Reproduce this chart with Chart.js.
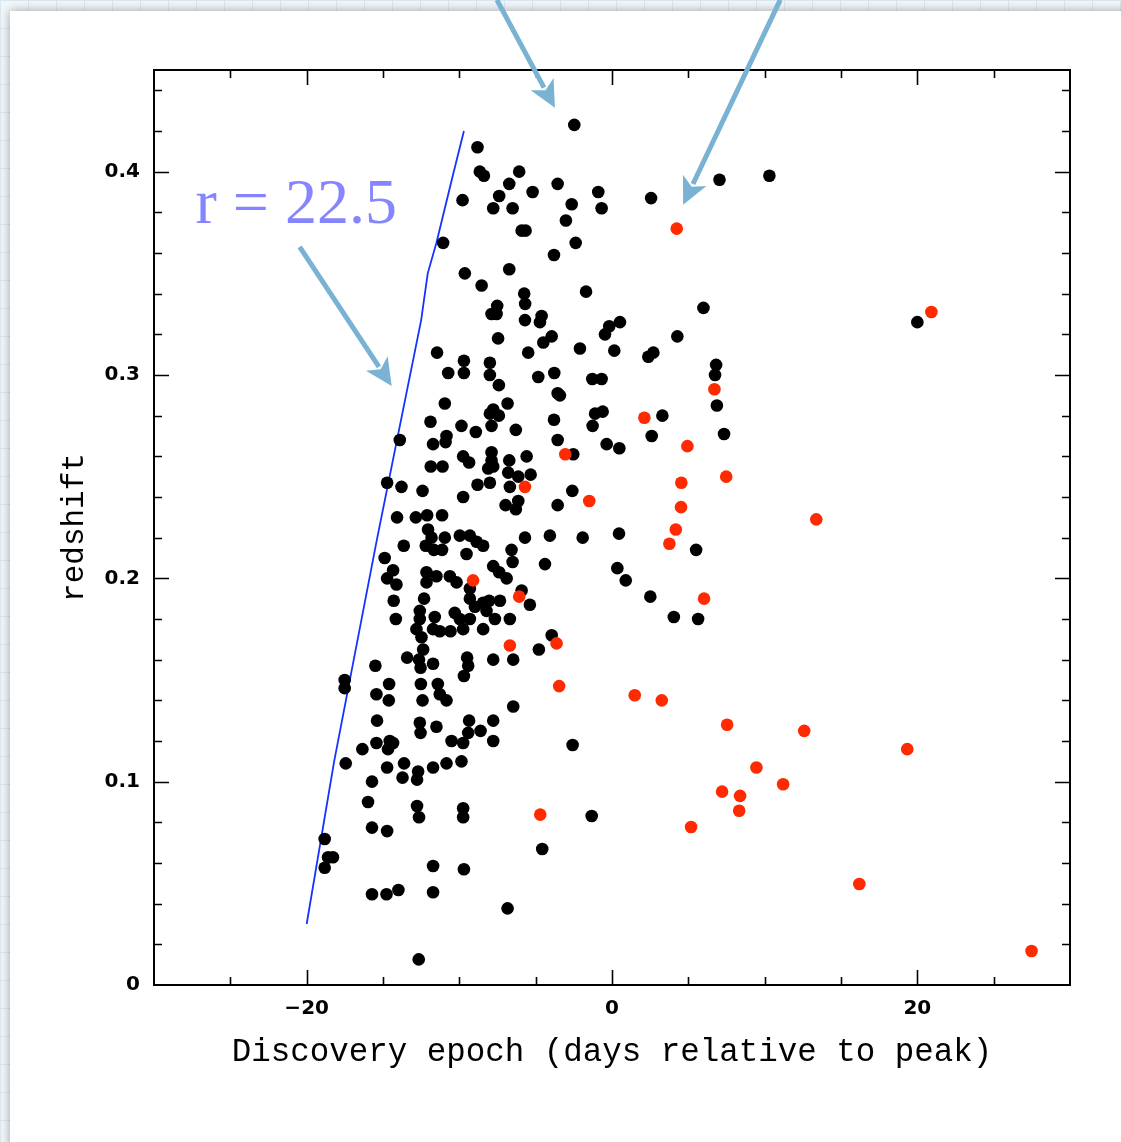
<!DOCTYPE html>
<html>
<head>
<meta charset="utf-8">
<script src="https://cdn.jsdelivr.net/npm/chart.js@4.4.0/dist/chart.umd.min.js"></script>
<style>
  html, body { margin: 0; padding: 0; }
  body {
    width: 1121px; height: 1142px; overflow: hidden; position: relative;
    background-color: #f2f6f9;
    background-image: linear-gradient(#d9e7f1 1px, transparent 1px),
                      linear-gradient(90deg, #d9e7f1 1px, transparent 1px);
    background-size: 28px 28px;
  }
  #card {
    position: absolute; left: 10px; top: 11px; width: 1150px; height: 1170px;
    background: #fff; box-shadow: 0 0 9px rgba(0, 0, 0, 0.35);
  }
  #wrap { position: absolute; left: 0; top: 0; width: 1121px; height: 1142px; }
</style>
</head>
<body>
<div id="card"></div>
<div id="wrap"><canvas id="chart" width="1121" height="1142"></canvas></div>
<script>
// black: supernovae discovered before peak etc.
const blackEpoch = [
  -11.06, -8.81, -2.47, -8.66, -8.39, -6.08, -6.73, -5.20, -7.39, -9.79,
  -7.78, -6.51, -3.56, -0.90, -2.64, -3.02, -5.92, -5.66, -2.38, -3.80,
  -9.64, -6.73, -8.54, -1.70, -5.75, -5.69, -7.52, -7.89, -7.56, -5.70,
  -4.61, -4.72, -0.68, 2.56, 7.04, 10.31, 5.99, 0.52, -0.18, -0.46,
  4.28, 0.15, 2.71, 2.38, 6.82, 6.75, 6.87, -0.68, -0.61, 3.30,
  2.60, -0.35, 0.48, 7.34, 0.46, 5.51, 20.0, -11.46, -10.73, -10.95,
  -11.89, -13.90, -10.84, -10.90, -11.72, -11.87, -11.10, -14.73, -13.79, -12.41,
  -14.08, -12.85, -12.11, -11.13, -12.05, -11.82, -10.95, -7.46, -4.50, -3.95,
  -5.49, -2.10, -9.70, -9.70, -8.00, -8.00, -7.41, -4.83, -3.78, -1.29,
  -3.56, -3.41, -6.84, -7.78, -8.00, -7.41, -1.11, -3.80, -1.27, -9.86,
  -8.92, -7.89, -6.30, -3.56, -2.54, -9.75, -9.36, -7.89, -7.89, -7.78,
  -8.11, -6.73, -5.59, -6.80, -6.14, -5.33, -8.81, -8.00, -6.69, -9.75,
  -2.60, -3.56, -6.97, -6.30, -6.14, -9.97, -9.31, -8.87, -8.44, -5.70,
  -4.07, -1.92, -6.58, -13.64, -12.20, -11.67, -11.13, -14.89, -14.34, -14.73,
  -14.12, -12.15, -11.50, -10.62, -10.18, -12.15, -14.30, -12.31, -12.59, -12.59,
  -11.61, -14.16, -10.30, -12.81, -12.48, -11.72, -11.28, -10.58, -12.37, -13.42,
  -12.64, -12.54, -11.72, -15.50, -17.51, -17.51, -14.60, -15.43, -14.62, -12.52,
  -12.41, -11.41, -11.28, -10.84, -15.39, -12.59, -12.54, -11.50, -16.35, -15.43,
  -14.56, -14.67, -14.34, -10.51, -9.53, -4.39, -7.78, -7.39, -6.90, -6.51,
  -9.31, -9.31, -8.98, -8.44, -8.05, -7.34, -8.22, -5.92, -5.38, -9.97,
  -9.31, -9.75, -7.67, -6.69, -8.44, -3.95, -4.79, -9.49, -9.42, -9.70,
  -7.78, -6.47, -6.47, -9.36, -9.42, -8.61, -7.78, -7.78, -9.75, -2.58,
  -9.86, -17.44, -14.73, -13.62, -11.72, -12.70, -12.77, -10.84, -13.72, -15.72,
  -15.98, -12.77, -12.64, -15.72, -14.73, -18.82, -18.60, -18.28, -18.82, -11.72,
  -15.72, -14.77, -13.99, -11.72, -12.66, -9.75, -9.75, -1.33, -4.57, -9.70,
  -6.84, 0.35, 0.90, 2.51, 4.05, 5.64
];
const blackRedshift = [
  0.365, 0.412, 0.423, 0.400, 0.398, 0.400, 0.394, 0.390, 0.388, 0.386,
  0.382, 0.382, 0.394, 0.390, 0.384, 0.376, 0.371, 0.371, 0.365, 0.359,
  0.350, 0.352, 0.344, 0.341, 0.340, 0.335, 0.334, 0.330, 0.330, 0.327,
  0.329, 0.326, 0.382, 0.387, 0.396, 0.398, 0.333, 0.326, 0.324, 0.320,
  0.319, 0.312, 0.311, 0.309, 0.305, 0.300, 0.285, 0.298, 0.282, 0.280,
  0.270, 0.266, 0.264, 0.271, 0.222, 0.214, 0.326, 0.311, 0.301, 0.286,
  0.277, 0.268, 0.270, 0.267, 0.266, 0.255, 0.255, 0.247, 0.245, 0.243,
  0.230, 0.230, 0.231, 0.231, 0.224, 0.220, 0.220, 0.318, 0.316, 0.319,
  0.311, 0.313, 0.307, 0.301, 0.306, 0.300, 0.295, 0.299, 0.301, 0.298,
  0.291, 0.290, 0.286, 0.283, 0.281, 0.280, 0.281, 0.278, 0.275, 0.275,
  0.272, 0.275, 0.273, 0.268, 0.261, 0.260, 0.257, 0.262, 0.258, 0.255,
  0.254, 0.258, 0.260, 0.252, 0.250, 0.251, 0.246, 0.247, 0.245, 0.240,
  0.243, 0.236, 0.236, 0.234, 0.238, 0.221, 0.221, 0.218, 0.216, 0.220,
  0.221, 0.220, 0.214, 0.216, 0.216, 0.214, 0.214, 0.210, 0.204, 0.200,
  0.197, 0.203, 0.201, 0.201, 0.198, 0.198, 0.189, 0.190, 0.184, 0.180,
  0.181, 0.180, 0.183, 0.175, 0.171, 0.175, 0.174, 0.174, 0.165, 0.161,
  0.160, 0.156, 0.158, 0.157, 0.150, 0.146, 0.148, 0.143, 0.140, 0.148,
  0.140, 0.148, 0.143, 0.140, 0.130, 0.129, 0.124, 0.127, 0.116, 0.119,
  0.120, 0.116, 0.119, 0.120, 0.212, 0.207, 0.206, 0.203, 0.200, 0.208,
  0.195, 0.190, 0.186, 0.188, 0.189, 0.189, 0.184, 0.194, 0.187, 0.180,
  0.180, 0.175, 0.180, 0.180, 0.175, 0.172, 0.165, 0.161, 0.157, 0.152,
  0.160, 0.160, 0.137, 0.130, 0.124, 0.125, 0.130, 0.120, 0.119, 0.118,
  0.110, 0.109, 0.107, 0.109, 0.107, 0.105, 0.101, 0.109, 0.102, 0.100,
  0.090, 0.088, 0.0825, 0.0774, 0.0757, 0.0718, 0.0628, 0.0628, 0.0577, 0.0585,
  0.0446, 0.0446, 0.0467, 0.0456, 0.0126, 0.0869, 0.0825, 0.0831, 0.0669, 0.0569,
  0.0377, 0.205, 0.199, 0.191, 0.181, 0.180
];

// red points
const redEpoch = [
  4.24, 6.71, 2.12, 4.94, 7.48, 4.54, 4.52, 4.18, 3.76, 6.03,
  1.49, 3.26, 7.54, 12.59, 9.46, 11.21, 7.21, 8.39, 8.33, 5.18,
  -3.06, -5.70, -1.49, -9.10, -6.08, -3.63, -6.69, -3.46, -4.70, 20.92,
  13.38, 19.34, 16.20, 27.48
];
const redRedshift = [
  0.372, 0.293, 0.279, 0.265, 0.250, 0.247, 0.235, 0.224, 0.217, 0.190,
  0.1425, 0.140, 0.128, 0.125, 0.107, 0.0987, 0.0951, 0.093, 0.0857, 0.0777,
  0.261, 0.245, 0.238, 0.199, 0.191, 0.168, 0.167, 0.147, 0.0838, 0.331,
  0.229, 0.116, 0.0497, 0.0167
];

// r = 22.5 detection limit curve
const limitEpoch = [-20.0, -18.2, -15.4, -12.5, -12.07, -11.5, -10.43, -9.7];
const limitRedshift = [0.030, 0.110, 0.219, 0.327, 0.350, 0.365, 0.398, 0.420];

const xLabelTicks = [-20, 0, 20];
const yLabelTicks = [0, 0.1, 0.2, 0.3, 0.4];
const xTickMarks = [-25, -20, -15, -10, -5, 0, 5, 10, 15, 20, 25];
const yTickMarks = [0.02, 0.04, 0.06, 0.08, 0.1, 0.12, 0.14, 0.16, 0.18, 0.2, 0.22,
  0.24, 0.26, 0.28, 0.3, 0.32, 0.34, 0.36, 0.38, 0.4, 0.42, 0.44];

// annotation arrows, in data units [x0, y0, x1, y1]
const arrows = [
  [-20.46, 0.363, -14.43, 0.2946],
  [-7.54, 0.4845, -3.74, 0.4314],
  [11.02, 0.4845, 4.66, 0.3837]
];
const limitLabel = { text: 'r = 22.5', x: -27.28, y: 0.375 };

const toPoints = (xs, ys) => xs.map((v, i) => ({ x: v, y: ys[i] }));

const framePlugin = {
  id: 'frame',
  afterDatasetsDraw(chart) {
    const { ctx, chartArea: a, scales: { x, y } } = chart;
    ctx.save();
    ctx.strokeStyle = '#000';
    ctx.lineWidth = 2;
    ctx.strokeRect(a.left, a.top, a.right - a.left, a.bottom - a.top);
    ctx.lineWidth = 1.6;
    ctx.beginPath();
    xTickMarks.forEach(v => {
      const px = Math.round(x.getPixelForValue(v)) + 0.5;
      const len = xLabelTicks.includes(v) ? 15 : 8;
      ctx.moveTo(px, a.bottom); ctx.lineTo(px, a.bottom - len);
      ctx.moveTo(px, a.top); ctx.lineTo(px, a.top + len);
    });
    yTickMarks.forEach(v => {
      const py = Math.round(y.getPixelForValue(v)) + 0.5;
      const len = yLabelTicks.some(t => Math.abs(t - v) < 1e-9) ? 15 : 8;
      ctx.moveTo(a.left, py); ctx.lineTo(a.left + len, py);
      ctx.moveTo(a.right, py); ctx.lineTo(a.right - len, py);
    });
    ctx.stroke();
    ctx.restore();
  },
  afterDraw(chart) {
    const { ctx, scales: { x, y } } = chart;
    ctx.save();
    ctx.strokeStyle = '#7ab2d4';
    ctx.fillStyle = '#7ab2d4';
    ctx.lineWidth = 5;
    arrows.forEach(([x0, y0, x1, y1]) => {
      const sx = x.getPixelForValue(x0), sy = y.getPixelForValue(y0);
      const ex = x.getPixelForValue(x1), ey = y.getPixelForValue(y1);
      const ang = Math.atan2(ey - sy, ex - sx);
      const head = 27, half = 13;
      const bx = ex - head * Math.cos(ang), by = ey - head * Math.sin(ang);
      ctx.beginPath();
      ctx.moveTo(sx, sy);
      ctx.lineTo(bx + 4 * Math.cos(ang), by + 4 * Math.sin(ang));
      ctx.stroke();
      ctx.beginPath();
      ctx.moveTo(ex, ey);
      ctx.lineTo(bx + half * Math.sin(ang), by - half * Math.cos(ang));
      ctx.lineTo(bx + 7 * Math.cos(ang), by + 7 * Math.sin(ang));
      ctx.lineTo(bx - half * Math.sin(ang), by + half * Math.cos(ang));
      ctx.closePath();
      ctx.fill();
    });
    ctx.fillStyle = '#8585ff';
    ctx.font = '64px "Liberation Serif"';
    ctx.textBaseline = 'alphabetic';
    ctx.fillText(limitLabel.text, x.getPixelForValue(limitLabel.x), y.getPixelForValue(limitLabel.y));
    ctx.restore();
  }
};

new Chart(document.getElementById('chart'), {
  type: 'scatter',
  data: {
    datasets: [
      {
        label: 'late',
        data: toPoints(redEpoch, redRedshift),
        backgroundColor: '#ff2a00',
        borderWidth: 0,
        pointRadius: 6.3,
        order: 0
      },
      {
        label: 'early',
        data: toPoints(blackEpoch, blackRedshift),
        backgroundColor: '#000',
        borderWidth: 0,
        pointRadius: 6.3,
        order: 1
      },
      {
        type: 'line',
        label: 'r = 22.5',
        data: toPoints(limitEpoch, limitRedshift),
        borderColor: '#1533ff',
        borderWidth: 1.8,
        pointRadius: 0,
        fill: false,
        tension: 0,
        order: 2
      }
    ]
  },
  options: {
    responsive: false,
    animation: false,
    layout: { padding: { left: 0, top: 70, right: 51, bottom: 0 } },
    plugins: {
      legend: { display: false },
      tooltip: { enabled: false }
    },
    scales: {
      x: {
        type: 'linear',
        min: -30,
        max: 30,
        grid: { display: false, drawTicks: false },
        border: { display: false },
        afterBuildTicks: s => { s.ticks = xLabelTicks.map(v => ({ value: v })); },
        afterFit: s => { s.height = 157; },
        ticks: {
          color: '#000',
          padding: 12,
          maxRotation: 0,
          font: { family: 'DejaVu Sans', size: 20, weight: 'bold' },
          callback: v => v < 0 ? '\u2212' + Math.abs(v) : String(v)
        },
        title: {
          display: true,
          text: 'Discovery epoch (days relative to peak)',
          color: '#000',
          font: { family: 'Liberation Mono', size: 32.5 },
          padding: { top: 0, bottom: 70 }
        }
      },
      y: {
        type: 'linear',
        min: 0,
        max: 0.45,
        grid: { display: false, drawTicks: false },
        border: { display: false },
        afterBuildTicks: s => { s.ticks = yLabelTicks.map(v => ({ value: v })); },
        afterFit: s => { s.width = 154; },
        ticks: {
          color: '#000',
          padding: 14,
          font: { family: 'DejaVu Sans', size: 20, weight: 'bold' },
          callback: v => v === 0 ? '0' : v.toFixed(1)
        },
        title: {
          display: true,
          text: 'redshift',
          color: '#000',
          font: { family: 'Liberation Mono', size: 31 },
          padding: { top: 56, bottom: 0 }
        }
      }
    }
  },
  plugins: [framePlugin]
});
</script>
</body>
</html>
